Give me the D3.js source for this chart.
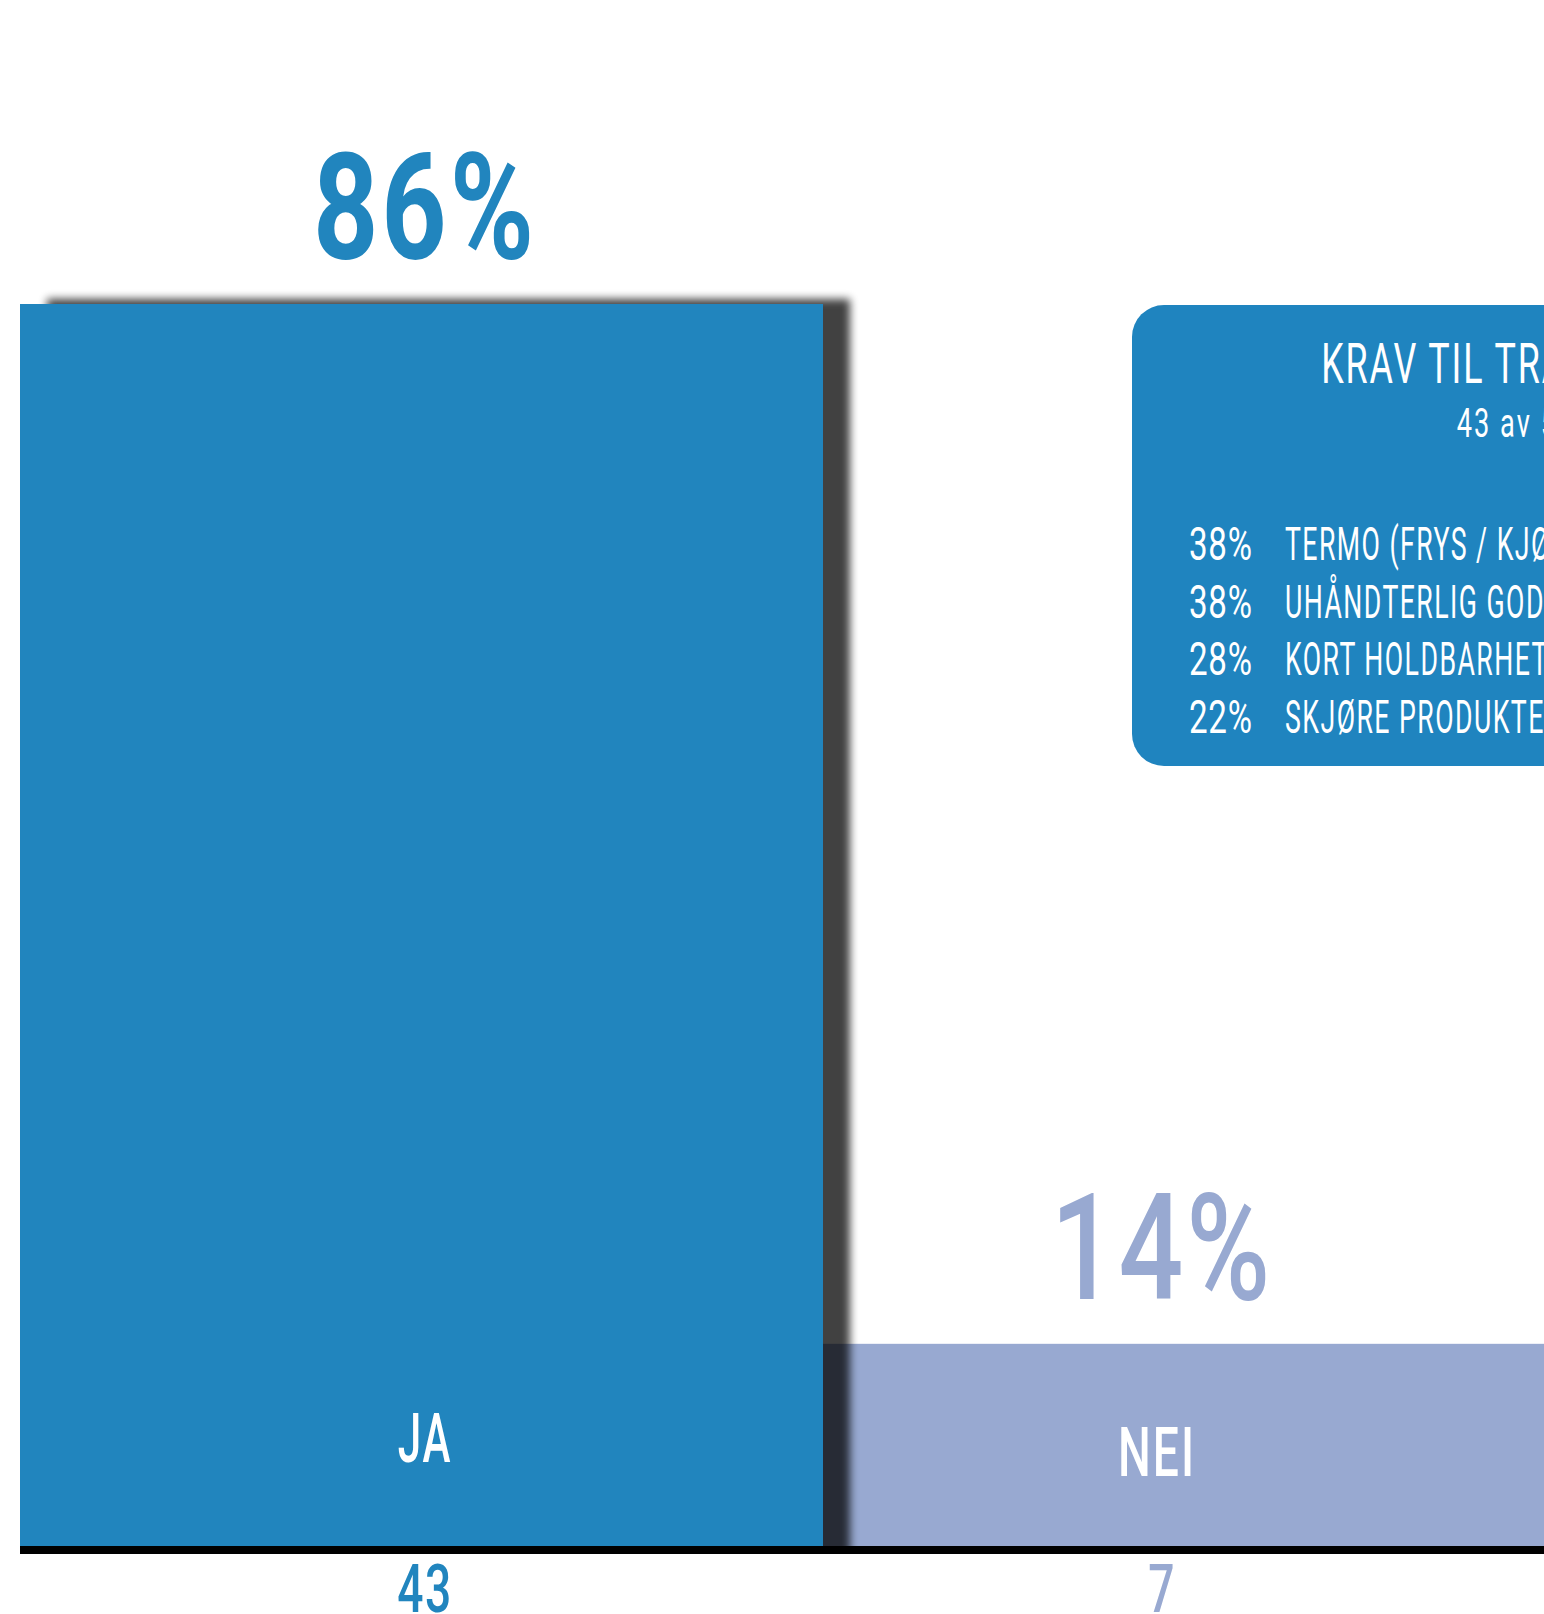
<!DOCTYPE html>
<html>
<head>
<meta charset="utf-8">
<script src="https://cdn.jsdelivr.net/npm/d3@7"></script>
<style>
  html, body { margin: 0; padding: 0; background: #fff; overflow: hidden; }
  svg { display: block; }
  text { font-family: Roboto, "Noto Sans", sans-serif; }
</style>
</head>
<body>
<script>
// Survey answers: does the shipment have special transport requirements?
const categories = ["JA", "NEI"];
const counts = [43, 7];
const shares = [86, 14];

// Breakdown of the requirements among the "JA" answers
const panelTitle = "KRAV TIL TRANSPORT";
const panelSubtitle = "43 av 50";
const requirementLabels = ["TERMO (FRYS / KJØL)", "UHÅNDTERLIG GODS", "KORT HOLDBARHET", "SKJØRE PRODUKTER"];
const requirementShares = [38, 38, 28, 22];

const W = 1544, H = 1614;
const colors = { JA: "#2185be", NEI: "#98a9d1" };
const panelColor = "#1f84bf";
const narrow = 0.7; // horizontal squeeze for a condensed look

const svg = d3.select("body").append("svg")
  .attr("width", W).attr("height", H);

const defs = svg.append("defs");
defs.append("filter").attr("id", "soft")
  .attr("x", "-10%").attr("y", "-10%").attr("width", "120%").attr("height", "120%")
  .append("feGaussianBlur").attr("stdDeviation", 4);

const baseY = 1546, topY = 304;
const x = d3.scaleBand().domain(categories).range([20, 20 + 2 * 803]);
const y = d3.scaleLinear().domain([0, d3.max(counts)]).range([baseY, topY]);
const labelX = d3.scalePoint().domain(categories).range([425, 1162]);

defs.append("clipPath").attr("id", "aboveAxis")
  .append("rect").attr("x", 0).attr("y", 0).attr("width", W).attr("height", baseY);

const data = categories.map((c, i) => ({ cat: c, count: counts[i], share: shares[i] }));

// Condensed text helper
function ctext(g, tx, ty, str, opts) {
  return g.append("text")
    .attr("transform", `translate(${tx},${ty}) scale(${opts.sx || narrow},1)`)
    .attr("text-anchor", opts.anchor || "middle")
    .attr("font-size", opts.size)
    .attr("font-weight", opts.weight || 400)
    .attr("letter-spacing", opts.ls || 0)
    .attr("fill", opts.fill)
    .text(str);
}

// Bars: the small one first, then the shadow of the tall one on top of it
const nei = data[1], ja = data[0];
svg.append("rect")
  .attr("x", x(nei.cat)).attr("y", y(nei.count))
  .attr("width", x.bandwidth()).attr("height", y(0) - y(nei.count))
  .attr("fill", colors[nei.cat]);

svg.append("g").attr("clip-path", "url(#aboveAxis)")
  .append("rect")
  .attr("x", x(ja.cat) + 27).attr("y", y(ja.count) - 5)
  .attr("width", x.bandwidth()).attr("height", y(0) - y(ja.count) + 20)
  .attr("fill", "#000").attr("opacity", 0.74)
  .attr("filter", "url(#soft)");

svg.append("rect")
  .attr("x", x(ja.cat)).attr("y", y(ja.count))
  .attr("width", x.bandwidth()).attr("height", y(0) - y(ja.count))
  .attr("fill", colors[ja.cat]);

// Baseline
svg.append("rect")
  .attr("x", x(categories[0])).attr("y", y(0))
  .attr("width", W).attr("height", 8)
  .attr("fill", "#000");

// Bar labels
const lab = svg.append("g");
data.forEach(d => {
  const cx = labelX(d.cat);
  const top = y(d.count);
  const h = y(0) - top;
  // share above the bar
  ctext(lab, cx, top - 45, d.share + "%", {
    size: 148, weight: d.cat === "JA" ? 700 : 500, fill: colors[d.cat], sx: 0.77, ls: 4
  });
  // category name inside the bar
  const ly = h > 300 ? y(0) - 84 : top + h / 2 + 31;
  ctext(lab, cx - (d.cat === "JA" ? 0 : 5), ly, d.cat, { size: 68, weight: 500, fill: "#fff", sx: d.cat === "JA" ? 0.62 : 0.68, ls: 3 });
  // count below the axis
  ctext(lab, cx, 1612, d.count, { size: 66, weight: 500, fill: colors[d.cat], sx: 0.7, ls: 2 });
});

// Requirement panel
const px = 1132, py = 305, pw = 784, ph = 461;
const panel = svg.append("g");
panel.append("rect")
  .attr("x", px).attr("y", py).attr("width", pw).attr("height", ph)
  .attr("rx", 32).attr("ry", 32)
  .attr("fill", panelColor);

ctext(panel, px + pw / 2 - 6, 383, panelTitle, { size: 56, weight: 400, fill: "#fff", sx: 0.64, ls: 3 });
ctext(panel, px + pw / 2 - 8, 437, panelSubtitle, { size: 40, weight: 400, fill: "#fff", sx: 0.68, ls: 3 });

const rowY = d3.scalePoint().domain(requirementLabels).range([560, 733]);
requirementLabels.forEach((lbl, i) => {
  ctext(panel, 1189, rowY(lbl), requirementShares[i] + "%", {
    size: 46, weight: 400, fill: "#fff", anchor: "start", sx: 0.72, ls: 1
  });
  ctext(panel, 1285, rowY(lbl), lbl, {
    size: 46, weight: 400, fill: "#fff", anchor: "start", sx: 0.58, ls: 2.5
  });
});
</script>
</body>
</html>
